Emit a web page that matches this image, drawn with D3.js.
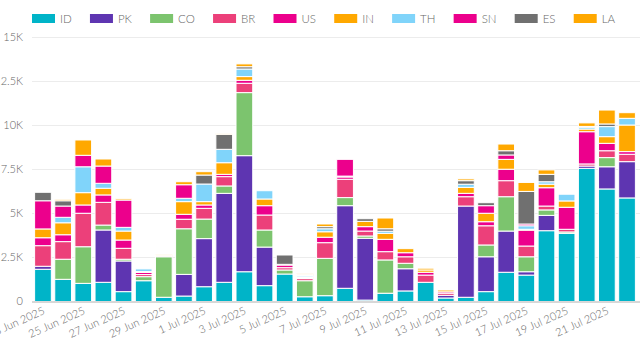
<!DOCTYPE html>
<html>
<head>
<meta charset="utf-8">
<script src="https://cdn.jsdelivr.net/npm/d3@7"></script>
<style>
html,body{margin:0;padding:0;background:#fff;}
svg{display:block;font-family:Lato,"Open Sans",sans-serif;font-weight:300;}
</style>
</head>
<body>
<svg id="chart" width="640" height="350"></svg>
<script>
const dates = ["23 Jun 2025","24 Jun 2025","25 Jun 2025","26 Jun 2025","27 Jun 2025","28 Jun 2025","29 Jun 2025","30 Jun 2025",
"1 Jul 2025","2 Jul 2025","3 Jul 2025","4 Jul 2025","5 Jul 2025","6 Jul 2025","7 Jul 2025","8 Jul 2025","9 Jul 2025","10 Jul 2025",
"11 Jul 2025","12 Jul 2025","13 Jul 2025","14 Jul 2025","15 Jul 2025","16 Jul 2025","17 Jul 2025","18 Jul 2025","19 Jul 2025",
"20 Jul 2025","21 Jul 2025","22 Jul 2025"];
const seriesNames = ["ID","PK","CO","BR","US","IN","TH","SN","ES","LA"];
const seriesColors = ["#00b4c8","#5e35b1","#7cc46e","#ec407a","#ec008c","#ffa800","#80d4fa","#ec008c","#707070","#ffa800"];
const ID = [1830,1260,1030,1090,560,1180,240,310,840,1090,1690,900,1560,270,330,750,80,470,600,1090,200,240,560,1660,1500,4020,3870,7560,6390,5880];
const PK = [170,0,0,2970,1740,0,0,1230,2730,5050,6590,2190,0,0,0,4690,3510,0,1260,0,150,5180,1980,2340,190,870,0,130,1260,2060];
const CO = [0,1140,2080,280,100,230,2300,2590,1110,420,3580,970,230,910,2120,460,130,1890,310,0,0,0,670,1950,850,310,80,0,520,0];
const BR = [1170,1000,1900,1290,620,120,60,540,610,530,530,850,130,120,890,1040,280,470,370,410,120,530,1090,910,610,220,150,120,390,420];
const US = [450,390,470,420,470,120,0,280,190,130,170,530,150,50,310,130,250,700,230,160,80,190,230,650,900,1040,1250,1830,420,150];
const IN = [500,680,700,380,510,50,60,720,190,660,210,380,40,50,310,50,300,340,230,130,100,340,480,560,50,200,360,150,380,1510];
const TH = [0,310,1470,280,210,150,0,190,1000,760,430,470,0,70,170,0,0,120,0,0,0,180,0,0,200,140,380,100,570,380];
const SN = [1600,640,650,980,1550,0,0,770,0,0,0,0,0,0,0,950,0,0,0,0,0,0,430,250,100,0,0,0,0,0];
const ES = [480,300,0,0,0,0,0,0,510,850,130,0,530,50,120,0,150,140,0,0,0,200,170,240,1850,420,0,50,150,0];
const LA = [0,80,870,400,80,0,0,170,190,60,160,0,0,60,150,0,0,610,0,100,0,100,0,380,510,250,0,200,790,320];
const yTicks = [0,2500,5000,7500,10000,12500,15000];
const yTickLabels = ["0","2.5K","5K","7.5K","10K","12.5K","15K"];
const xTickDates = dates.filter((d,i)=>i%2===0);

const seriesValues = [ID,PK,CO,BR,US,IN,TH,SN,ES,LA];
const rows = dates.map((d,i)=>{
  const r = {date:d};
  seriesNames.forEach((s,j)=>{ r[s] = seriesValues[j][i]; });
  return r;
});

const svg = d3.select("#chart");
const x = d3.scaleBand().domain(dates).range([33,637]).paddingInner(0.17).paddingOuter(0.08);
const y = d3.scaleLinear().domain([0,15000]).range([301.5,37.3]);
const color = d3.scaleOrdinal().domain(seriesNames).range(seriesColors);

// grid
svg.append("g").selectAll("line").data(yTicks.slice(1)).join("line")
  .attr("x1",32).attr("x2",640)
  .attr("y1",d=>Math.round(y(d))+0.5).attr("y2",d=>Math.round(y(d))+0.5)
  .attr("stroke","#ececec").attr("stroke-width",1);

// y labels
svg.append("g").selectAll("text").data(yTicks).join("text")
  .attr("x",23).attr("y",d=>y(d)).attr("dy","0.35em")
  .attr("text-anchor","end").attr("font-size",11).attr("fill","#666")
  .text((d,i)=>yTickLabels[i]);

// stacks
const stack = d3.stack().keys(seriesNames)(rows);
svg.append("g").selectAll("g").data(stack).join("g")
  .attr("fill",d=>color(d.key))
  .selectAll("rect").data(d=>d).join("rect")
  .attr("x",d=>x(d.data.date))
  .attr("width",x.bandwidth())
  .attr("y",d=>y(d[1]))
  .attr("height",d=>Math.max(0,y(d[0])-y(d[1])))
  .attr("stroke","#fff").attr("stroke-width",1);

// baseline
svg.append("line").attr("x1",32).attr("x2",640)
  .attr("y1",302).attr("y2",302).attr("stroke","#b0b0b0").attr("stroke-width",1);

// x labels
const xAxis = svg.append("g");
xAxis.selectAll("text").data(xTickDates).join("text")
  .attr("transform",d=>`translate(${x(d)+x.bandwidth()/2+1},${310}) rotate(-24)`)
  .attr("text-anchor","end").attr("dy","0.35em")
  .attr("font-size",11).attr("fill","#666")
  .text(d=>d);

// legend
const leg = svg.append("g");
let lx = 32;
seriesNames.forEach((s,i)=>{
  const g = leg.append("g").attr("transform",`translate(${lx},0)`);
  g.append("rect").attr("x",0).attr("y",14).attr("width",23).attr("height",9).attr("fill",seriesColors[i]);
  const t = g.append("text").attr("x",28).attr("y",18.5).attr("dy","0.35em")
    .attr("font-size",11.5).attr("fill","#666").text(s);
  const w = t.node().getComputedTextLength();
  lx += 28 + w + 18.2;
});
</script>
</body>
</html>
